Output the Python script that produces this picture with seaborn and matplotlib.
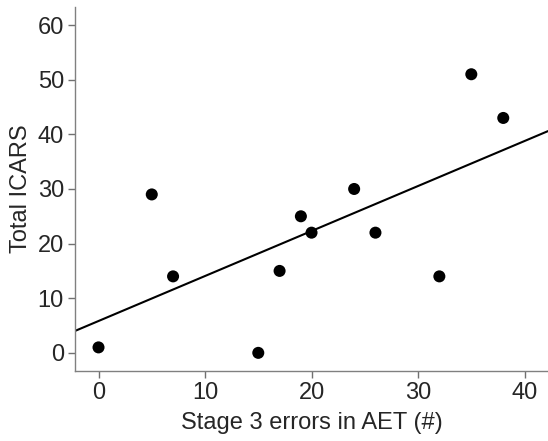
import numpy as np
import pandas as pd
import matplotlib
matplotlib.use("Agg")
import matplotlib.pyplot as plt
import seaborn as sns

# values
stage3_errors = [0, 5, 7, 15, 17, 19, 20, 24, 26, 32, 35, 38]
total_icars = [1, 29, 14, 0, 15, 25, 22, 30, 22, 14, 51, 43]

df = pd.DataFrame({'errors': stage3_errors, 'icars': total_icars})

sns.set_style('ticks')
plt.rcParams['font.family'] = ['Liberation Sans', 'DejaVu Sans']

fig = plt.figure(figsize=(5.48, 4.41), dpi=100)
ax = fig.add_axes([0.137, 0.159, 0.863, 0.825])
# limits first so the fitted line spans the whole axis
ax.set_xlim(-2.2, 42.2)
ax.set_ylim(-3.3, 63.3)

sns.regplot(data=df, x='errors', y='icars', ax=ax, ci=None, truncate=False,
            scatter_kws={'s': 75, 'color': 'black', 'edgecolor': 'none', 'alpha': 1},
            line_kws={'color': 'black', 'linewidth': 1.5})

ax.set_xlim(-2.2, 42.2)
ax.set_ylim(-3.3, 63.3)
ax.set_xticks([0, 10, 20, 30, 40])
ax.set_yticks([0, 10, 20, 30, 40, 50, 60])
ax.set_xlabel('Stage 3 errors in AET (#)', fontsize=17, labelpad=6)
ax.set_ylabel('Total ICARS', fontsize=17, labelpad=4)
ax.tick_params(labelsize=17, length=5, width=1, color='#707070', direction='out', pad=3)

sns.despine(ax=ax)
for s in ['left', 'bottom']:
    ax.spines[s].set_color('#808080')
    ax.spines[s].set_linewidth(1)

fig.savefig('out.png', dpi=100)
